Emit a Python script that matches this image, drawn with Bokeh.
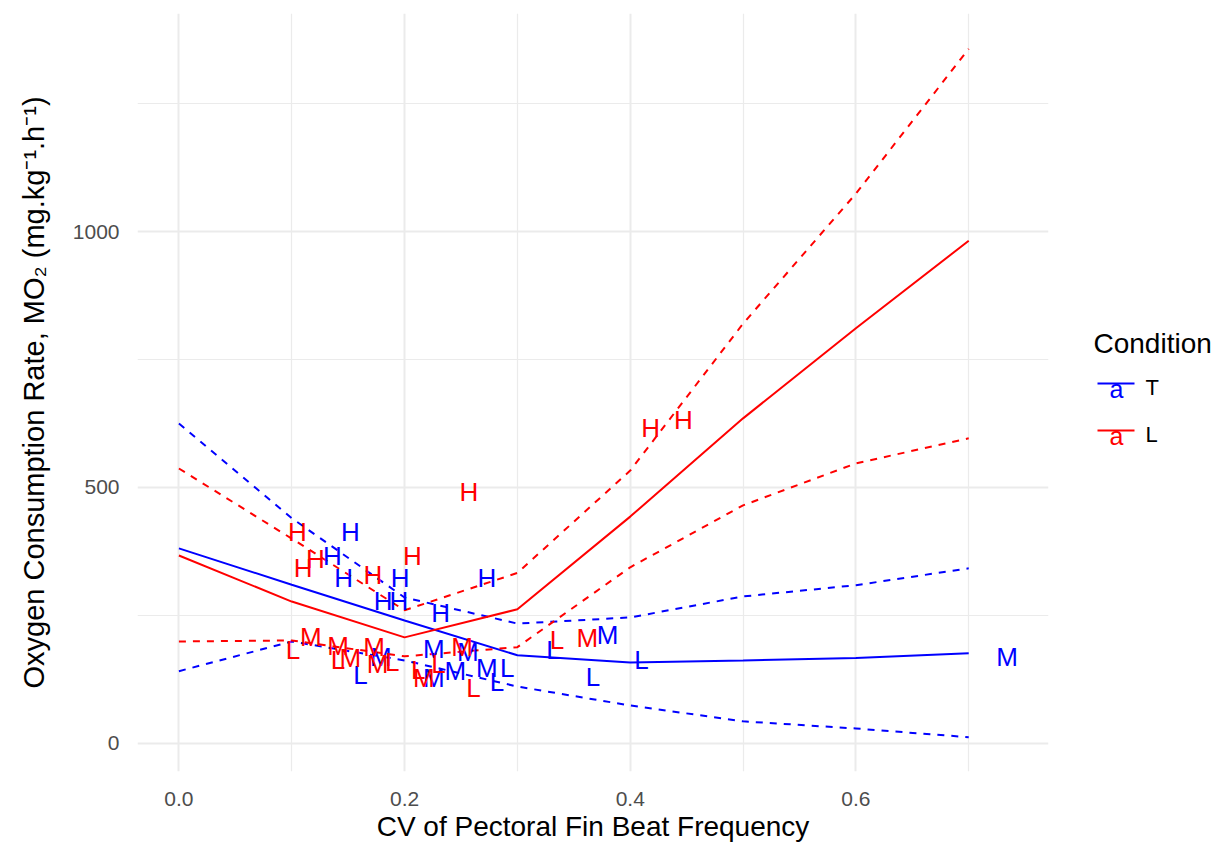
from bokeh.plotting import figure
from bokeh.layouts import row
from bokeh.models import Range1d, FixedTicker, ColumnDataSource
from bokeh.core.properties import value
from bokeh.embed import file_html
from bokeh.resources import INLINE

FONT = "Liberation Sans"
BLUE = "#0000FF"
RED = "#FF0000"

# prediction grid
grid_x = [0.0, 0.1, 0.2, 0.3, 0.4, 0.5, 0.6, 0.7]
# Condition T (blue)
t_fit = [381, 310, 240, 172, 158, 162, 167, 176]
t_upper = [625, 440, 285, 234, 246, 287, 309, 342]
t_lower = [141, 199, 162, 111, 74, 43, 29, 12]
# Condition L (red)
l_fit = [367, 277, 207, 262, 443, 635, 811, 982]
l_upper = [537, 400, 260, 333, 533, 820, 1074, 1357]
l_lower = [199, 201, 170, 188, 344, 465, 547, 596]

# observed points, Condition T (blue)
t_x = [0.152, 0.136, 0.146, 0.196, 0.181, 0.195, 0.273, 0.232,
       0.179, 0.226, 0.226, 0.245, 0.273, 0.380, 0.734, 0.256,
       0.161, 0.291, 0.282, 0.332, 0.367, 0.410]
t_y = [412, 367, 324, 324, 279, 279, 324, 254,
       168, 184, 127, 141, 148, 211, 168, 178,
       133, 148, 119, 182, 129, 162]
t_lab = ["H", "H", "H", "H", "H", "H", "H", "H",
         "M", "M", "M", "M", "M", "M", "M", "M",
         "L", "L", "L", "L", "L", "L"]

# observed points, Condition L (red)
l_x = [0.105, 0.110, 0.121, 0.172, 0.207, 0.257, 0.418, 0.447,
       0.117, 0.141, 0.173, 0.152, 0.176, 0.217, 0.251, 0.362,
       0.101, 0.141, 0.189, 0.212, 0.230, 0.261, 0.335]
l_y = [412, 342, 361, 328, 367, 492, 617, 631,
       207, 191, 188, 166, 156, 127, 188, 205,
       182, 162, 158, 143, 156, 109, 201]
l_lab = ["H", "H", "H", "H", "H", "H", "H", "H",
         "M", "M", "M", "M", "M", "M", "M", "M",
         "L", "L", "L", "L", "L", "L", "L"]

x_ticks = [0.0, 0.2, 0.4, 0.6]
y_ticks = [0, 500, 1000]

legend_title = "Condition"
legend_labels = ["T", "L"]
legend_colors = [BLUE, RED]

H = 846
TOP, BOTTOM = 13, 771
p = figure(width=1060, height=H, output_backend="svg", toolbar_location=None,
           x_range=Range1d(-0.0367, 0.7707), y_range=Range1d(-55, 1426),
           min_border_left=137, min_border_right=12, min_border_top=TOP,
           min_border_bottom=H - BOTTOM)
p.outline_line_color = None
p.background_fill_color = "white"

for ax in (p.xaxis[0], p.yaxis[0]):
    ax.axis_line_color = None
    ax.major_tick_line_color = None
    ax.minor_tick_line_color = None
    ax.major_tick_in = 0
    ax.major_tick_out = 0
    ax.major_label_text_font = FONT
    ax.major_label_text_font_size = "21px"
    ax.major_label_text_color = "#4D4D4D"
    ax.axis_label_text_font = FONT
    ax.axis_label_text_font_style = "normal"
    ax.axis_label_text_color = "black"

p.xaxis.axis_label_text_font_size = "28px"
p.yaxis.axis_label_text_font_size = "29px"
p.xaxis.ticker = FixedTicker(ticks=x_ticks, minor_ticks=[0.1, 0.3, 0.5, 0.7])
p.yaxis.ticker = FixedTicker(ticks=y_ticks, minor_ticks=[250, 750, 1250])
p.xaxis.major_label_overrides = {0.0: "0.0", 0.2: "0.2", 0.4: "0.4", 0.6: "0.6"}
p.xaxis.axis_label = "CV of Pectoral Fin Beat Frequency"
p.yaxis.axis_label = "Oxygen Consumption Rate, MO\u2082 (mg.kg\u207b\u00b9.h\u207b\u00b9)"
p.xaxis.major_label_standoff = 16
p.yaxis.major_label_standoff = 14
p.xaxis.axis_label_standoff = 2
p.yaxis.axis_label_standoff = 20

for g in (p.xgrid[0], p.ygrid[0]):
    g.grid_line_color = "#EBEBEB"
    g.grid_line_width = 2
    g.minor_grid_line_color = "#EBEBEB"
    g.minor_grid_line_width = 1.2

# lines
p.line(grid_x, t_fit, line_color=BLUE, line_width=2)
p.line(grid_x, t_upper, line_color=BLUE, line_width=2, line_dash="7 7")
p.line(grid_x, t_lower, line_color=BLUE, line_width=2, line_dash="7 7")
p.line(grid_x, l_fit, line_color=RED, line_width=2)
p.line(grid_x, l_upper, line_color=RED, line_width=2, line_dash="7 7")
p.line(grid_x, l_lower, line_color=RED, line_width=2, line_dash="7 7")

# letters
src_t = ColumnDataSource(dict(x=t_x, y=t_y, t=t_lab))
src_l = ColumnDataSource(dict(x=l_x, y=l_y, t=l_lab))
p.text(x="x", y="y", text="t", source=src_t, text_color=BLUE, text_align="center",
       text_baseline="middle", text_font=value(FONT), text_font_size="26px")
p.text(x="x", y="y", text="t", source=src_l, text_color=RED, text_align="center",
       text_baseline="middle", text_font=value(FONT), text_font_size="26px")

# legend panel (coordinates in page pixels; its frame is aligned with the main frame)
LW = 158
lg = figure(width=LW, height=H, output_backend="svg", toolbar_location=None,
            x_range=Range1d(1060, 1060 + LW), y_range=Range1d(BOTTOM, TOP),
            x_axis_location=None, y_axis_location=None, title=None,
            min_border=0, min_border_left=0, min_border_right=0,
            min_border_top=TOP, min_border_bottom=H - BOTTOM)
lg.grid.visible = False
lg.outline_line_color = None
lg.text(x=[1093], y=[343], text=[legend_title], text_color="black",
        text_font=value(FONT), text_font_size="28px", text_baseline="alphabetic",
        text_align="left")
ys = [383, 430]
lg.segment(x0=[1097, 1097], y0=ys, x1=[1134, 1134], y1=ys,
           line_color=legend_colors, line_width=2)
lg.text(x=[1116, 1116], y=[y + 5 for y in ys], text=["a", "a"], text_color=legend_colors,
        text_font=value(FONT), text_font_size="25px", text_baseline="alphabetic",
        text_align="center")
lg.text(x=[1145, 1145], y=[y + 4 for y in ys], text=legend_labels, text_color="black",
        text_font=value(FONT), text_font_size="22px", text_baseline="alphabetic",
        text_align="left")

layout = row(p, lg, spacing=0)
out = file_html(layout, INLINE)
open("out.html", "w").write(out)
